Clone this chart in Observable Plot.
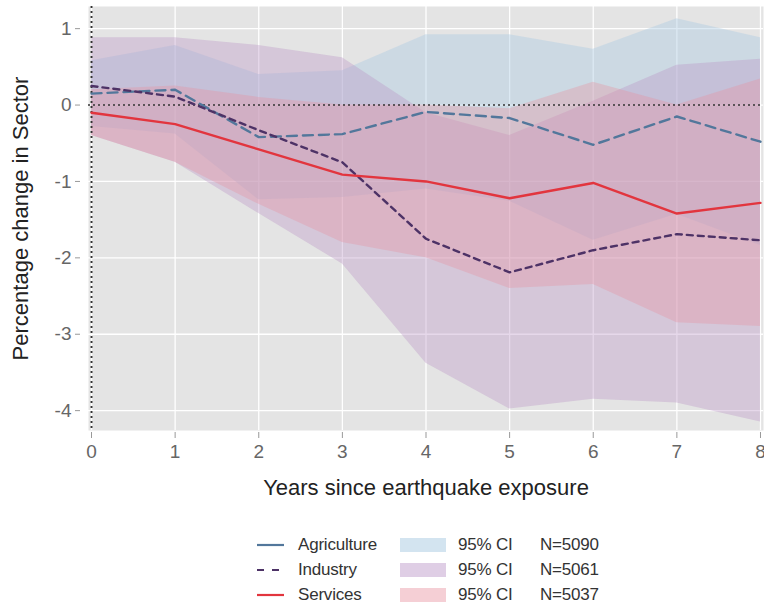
<!DOCTYPE html>
<html>
<head>
<meta charset="utf-8">
<script src="https://cdn.jsdelivr.net/npm/d3@7"></script>
<script src="https://cdn.jsdelivr.net/npm/@observablehq/plot@0.6"></script>
<style>
  body { margin: 0; background: #fff; font-family: "Liberation Sans", Arial, sans-serif; }
  #legend { display: grid; grid-template-columns: 48px 102px 58px 82px 90px; row-gap: 5px; margin-left: 250px; margin-top: 10px; font-size: 17px; color: #333; align-items: center; letter-spacing: -0.2px; }
  #legend svg { display: block; }
</style>
</head>
<body>
<div id="chart"></div>
<div id="legend"></div>
<script>
// Event-study estimates by years since earthquake exposure
const years = [0, 1, 2, 3, 4, 5, 6, 7, 8];

const agricultureEst   = [0.15, 0.20, -0.42, -0.38, -0.09, -0.17, -0.52, -0.15, -0.48];
const agricultureLower = [-0.28, -0.38, -1.24, -1.21, -1.10, -1.26, -1.77, -1.43, -1.84];
const agricultureUpper = [0.58, 0.78, 0.40, 0.45, 0.92, 0.92, 0.73, 1.13, 0.88];

const industryEst   = [0.25, 0.11, -0.33, -0.75, -1.75, -2.19, -1.90, -1.69, -1.77];
const industryLower = [-0.40, -0.75, -1.42, -2.08, -3.38, -3.98, -3.85, -3.90, -4.15];
const industryUpper = [0.88, 0.88, 0.78, 0.62, -0.10, -0.40, 0.05, 0.52, 0.60];

const servicesEst   = [-0.10, -0.25, -0.58, -0.91, -1.00, -1.22, -1.02, -1.42, -1.28];
const servicesLower = [-0.40, -0.75, -1.30, -1.80, -2.00, -2.40, -2.35, -2.85, -2.90];
const servicesUpper = [0.20, 0.25, 0.10, 0.00, 0.00, -0.05, 0.30, 0.00, 0.34];

const sectors = ["Agriculture", "Industry", "Services"];
const sampleSizes = ["N=5090", "N=5061", "N=5037"];
const xTicks = [0, 1, 2, 3, 4, 5, 6, 7, 8];
const yTicks = [1, 0, -1, -2, -3, -4];

const styles = {
  Agriculture: {line: "#52779b", dash: "10,6", band: "#abcbe3", bandOpacity: 0.42},
  Industry:    {line: "#4d3266", dash: "6,5",  band: "#b994c6", bandOpacity: 0.36},
  Services:    {line: "#e2353e", dash: null,   band: "#e8919f", bandOpacity: 0.34}
};

const series = {
  Agriculture: [agricultureEst, agricultureLower, agricultureUpper],
  Industry:    [industryEst, industryLower, industryUpper],
  Services:    [servicesEst, servicesLower, servicesUpper]
};

const rows = sectors.flatMap(s => years.map((yr, i) => ({
  sector: s, year: yr,
  est: series[s][0][i], lo: series[s][1][i], hi: series[s][2][i]
})));

const bandMarks = sectors.map(s => Plot.areaY(rows.filter(d => d.sector === s), {
  x: "year", y1: "lo", y2: "hi",
  fill: styles[s].band, fillOpacity: styles[s].bandOpacity
}));

const lineMarks = sectors.map(s => Plot.line(rows.filter(d => d.sector === s), {
  x: "year", y: "est",
  stroke: styles[s].line, strokeWidth: 2.4,
  strokeDasharray: styles[s].dash
}));

const chart = Plot.plot({
  width: 764,
  height: 525,
  marginLeft: 88,
  marginRight: 1,
  marginTop: 6,
  marginBottom: 95,
  style: {fontFamily: "Liberation Sans, Arial, sans-serif", background: "#fff"},
  x: {domain: [-0.036, 8.036]},
  y: {domain: [-4.26, 1.29]},
  marks: [
    Plot.frame({fill: "#e4e4e4", stroke: null}),
    Plot.gridX(xTicks, {stroke: "#fff", strokeOpacity: 1, strokeWidth: 1.3}),
    Plot.gridY(yTicks, {stroke: "#fff", strokeOpacity: 1, strokeWidth: 1.3}),
    ...bandMarks,
    Plot.ruleY([0], {stroke: "#333", strokeWidth: 1.6, strokeDasharray: "2,3"}),
    Plot.ruleX([0], {stroke: "#333", strokeWidth: 1.9, strokeDasharray: "2,3"}),
    ...lineMarks,
    Plot.axisY(yTicks, {
      tickFormat: d => String(d), tickSize: 5, tickPadding: 4, dx: -8,
      fontSize: 19, color: "#666", stroke: "#999",
      label: "Percentage change in Sector", labelAnchor: "center", labelArrow: "none",
      labelOffset: 76
    }),
    Plot.axisX(xTicks, {
      tickFormat: d => String(d), tickSize: 6, tickPadding: 6, dy: 2,
      fontSize: 19, color: "#666", stroke: "#999",
      label: "Years since earthquake exposure", labelAnchor: "center", labelArrow: "none",
      labelOffset: 64
    })
  ]
});

// darker, larger type for the two axis titles
chart.querySelectorAll("g[aria-label='y-axis label'] text, g[aria-label='x-axis label'] text").forEach(t => {
  t.setAttribute("fill", "#222");
  t.setAttribute("font-size", "22");
});
document.getElementById("chart").appendChild(chart);

// legend below the chart
const legend = d3.select("#legend");
sectors.forEach((s, i) => {
  const st = styles[s];
  const ls = legend.append("div").append("svg").attr("width", 40).attr("height", 14);
  ls.append("line").attr("x1", 7).attr("x2", 34).attr("y1", 7).attr("y2", 7)
    .attr("stroke", st.line).attr("stroke-width", 2.2)
    .attr("stroke-dasharray", s === "Industry" ? "7,8" : null);
  legend.append("div").text(s);
  const bs = legend.append("div").append("svg").attr("width", 48).attr("height", 16);
  bs.append("rect").attr("x", 0).attr("y", 1).attr("width", 46).attr("height", 14)
    .attr("fill", st.band).attr("fill-opacity", st.bandOpacity + 0.1);
  legend.append("div").text("95% CI");
  legend.append("div").text(sampleSizes[i]);
});
</script>
</body>
</html>
